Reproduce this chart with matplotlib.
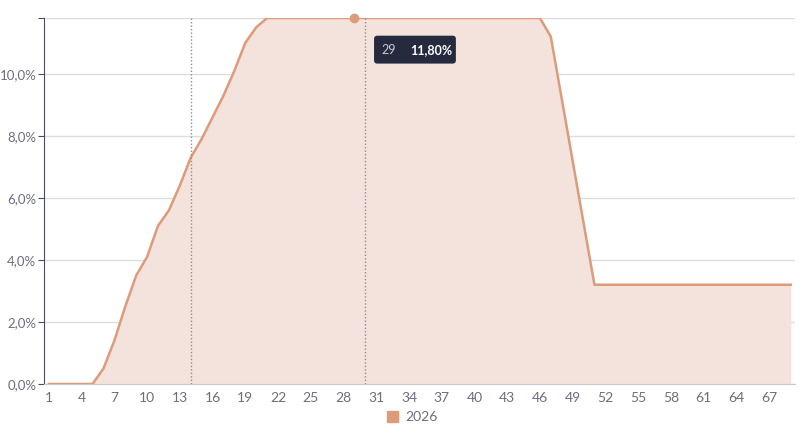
import matplotlib.pyplot as plt
from matplotlib.patches import Patch, FancyBboxPatch
from matplotlib.ticker import FuncFormatter

# x = period index, y = rate in percent
periods = list(range(1, 70))
rate = ([0, 0, 0, 0, 0, 0.5, 1.4, 2.5, 3.5, 4.1, 5.1, 5.6, 6.4, 7.3, 7.9, 8.6, 9.3, 10.1, 11.0, 11.5]
        + [11.8] * 26
        + [11.2, 9.2, 7.2, 5.2]
        + [3.2] * 19)
marker_lines = [14, 30]
hover_x = 29
series_name = '2026'

line_col = '#dc9c7c'
fill_col = '#f3e3dc'
text_col = '#6b6e7d'

plt.rcParams['font.family'] = ['Lato', 'DejaVu Sans']

fig = plt.figure(figsize=(8, 4.38), dpi=100)
ax = fig.add_axes([0.055, 0.1233, 0.939, 0.8356])

ax.fill_between(periods, rate, 0, color=fill_col, lw=0, zorder=1)
ax.plot(periods, rate, color=line_col, lw=1.8, zorder=3)

for xv in marker_lines:
    ax.axvline(xv, color='#8a8c99', lw=1, ls=(0, (1, 1.5)), zorder=4)

hy = rate[periods.index(hover_x)]
ax.plot([hover_x], [hy], 'o', color=line_col, ms=6, zorder=5, clip_on=False)

ax.set_xlim(0.55, 69.4)
ax.set_ylim(0, 11.8)
ax.set_yticks([0, 2, 4, 6, 8, 10, 11.8])
ax.yaxis.set_major_formatter(FuncFormatter(
    lambda v, p: '' if v > 11 else f'{v:.1f}%'.replace('.', ',')))
ax.set_xticks(periods[::3])
ax.grid(axis='y', color='#dddddd', lw=1)
ax.set_axisbelow(True)

for s in ['top', 'right']:
    ax.spines[s].set_visible(False)
ax.spines['left'].set_color('#4a4d5e')
ax.spines['bottom'].set_color('#c8c8cc')
ax.tick_params(axis='y', colors='#4a4d5e', labelcolor=text_col, length=4, pad=1.5, labelsize=9.5)
ax.tick_params(axis='x', length=0, labelcolor=text_col, labelsize=10, pad=6)

# tooltip
ax.add_patch(FancyBboxPatch((30.8, 10.33), 7.5, 0.9, boxstyle='round,pad=0,rounding_size=0.3',
                            mutation_aspect=0.35, fc='#262a3f', ec='none', zorder=7))
ax.text(31.5, 10.78, f'{hover_x}', color='#c9cad3', fontsize=9, va='center', zorder=8)
ax.text(34.1, 10.78, f'{hy:.2f}%'.replace('.', ','), color='white', fontsize=9,
        fontweight='bold', va='center', zorder=8)

fig.legend(handles=[Patch(color=line_col, label=series_name)], loc='center',
           bbox_to_anchor=(0.515, 0.048), frameon=False, fontsize=10,
           handlelength=0.8, handleheight=0.8, handletextpad=0.5, labelcolor=text_col)

fig.savefig('out.png')
